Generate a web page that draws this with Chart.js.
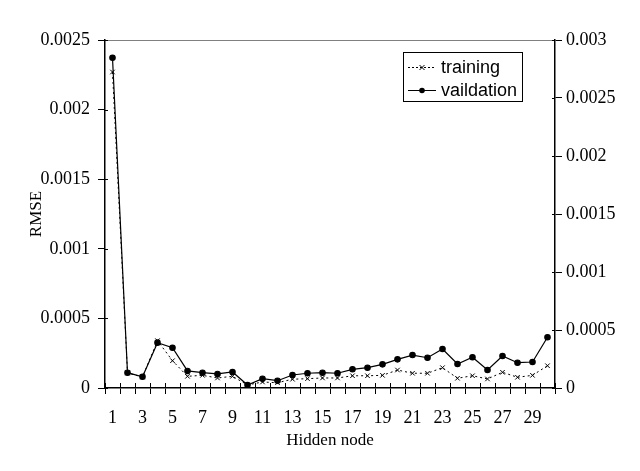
<!DOCTYPE html>
<html>
<head>
<meta charset="utf-8">
<script src="https://cdn.jsdelivr.net/npm/chart.js@4/dist/chart.umd.min.js"></script>
<style>
  html, body { margin: 0; padding: 0; background: #fff; }
  #wrap { width: 640px; height: 471px; }
</style>
</head>
<body>
<div id="wrap"><canvas id="rmse"></canvas></div>
<script>
const nodes = [];
for (let i = 1; i <= 30; i++) nodes.push(String(i));

const training = [0.00227, 0.000108, 0.000079, 0.00034, 0.000196, 0.000084, 0.000091, 0.000072, 0.000084, 0.000022,
    0.000043, 0.000038, 0.000063, 0.000067, 0.000072, 0.000072, 0.000088, 0.000088, 0.000091, 0.000129,
    0.000106, 0.000106, 0.000146, 0.00007, 0.000088, 0.000065, 0.000113, 0.000077, 0.000091, 0.00016];

const validation = [0.002847, 0.000132, 0.000097, 0.000391, 0.000347, 0.000147, 0.000132, 0.000121, 0.000138, 0.000026,
    0.00008, 0.000063, 0.000112, 0.000127, 0.000132, 0.000127, 0.000161, 0.000175, 0.000204, 0.000247,
    0.000284, 0.000261, 0.000336, 0.000207, 0.000265, 0.000155, 0.000276, 0.000218, 0.000224, 0.000437];

Chart.defaults.font.family = '"Liberation Serif", "Times New Roman", serif';
Chart.defaults.font.size = 18;
Chart.defaults.color = '#000';

// top frame line, inner halves of tick marks, boxed legend
const frameAndLegend = {
    id: 'frameAndLegend',
    afterDraw(chart) {
        const ctx = chart.ctx;
        const a = chart.chartArea;
        ctx.save();
        ctx.strokeStyle = '#808080';
        ctx.lineWidth = 1;
        ctx.beginPath();
        ctx.moveTo(a.left, a.top + 0.5);
        ctx.lineTo(a.right, a.top + 0.5);
        ctx.stroke();

        // tick marks cross the axes
        ctx.strokeStyle = '#000';
        ctx.beginPath();
        const xs = chart.scales.x;
        const half = (xs.getPixelForValue(1) - xs.getPixelForValue(0)) / 2;
        for (let i = 0; i <= nodes.length; i++) {
            const px = Math.round(xs.getPixelForValue(i) - half) + 0.5;
            ctx.moveTo(px, a.bottom);
            ctx.lineTo(px, a.bottom - 5);
        }
        ['yleft', 'yright'].forEach(id => {
            const s = chart.scales[id];
            const dir = id === 'yleft' ? 1 : -1;
            const edge = id === 'yleft' ? a.left : a.right;
            s.ticks.forEach(t => {
                const py = Math.round(s.getPixelForValue(t.value)) + 0.5;
                ctx.moveTo(edge, py);
                ctx.lineTo(edge + 3 * dir, py);
            });
        });
        ctx.stroke();

        // legend box
        const bx = 403.5, by = 52.5, bw = 119, bh = 49;
        ctx.fillStyle = '#fff';
        ctx.fillRect(bx, by, bw, bh);
        ctx.strokeStyle = '#000';
        ctx.strokeRect(bx, by, bw, bh);

        const rows = [
            {label: 'training', y: 67, dash: [2, 2], marker: 'x'},
            {label: 'vaildation', y: 90, dash: [], marker: 'dot'}
        ];
        ctx.font = '18px "Liberation Sans", Arial, sans-serif';
        ctx.textBaseline = 'middle';
        rows.forEach(r => {
            ctx.strokeStyle = '#000';
            ctx.setLineDash(r.dash);
            ctx.beginPath();
            ctx.moveTo(408, r.y + 0.5);
            ctx.lineTo(436, r.y + 0.5);
            ctx.stroke();
            ctx.setLineDash([]);
            if (r.marker === 'x') {
                ctx.beginPath();
                ctx.moveTo(419.5, r.y - 2); ctx.lineTo(424.5, r.y + 3);
                ctx.moveTo(424.5, r.y - 2); ctx.lineTo(419.5, r.y + 3);
                ctx.stroke();
            } else {
                ctx.fillStyle = '#000';
                ctx.beginPath();
                ctx.arc(422, r.y + 0.5, 2.8, 0, Math.PI * 2);
                ctx.fill();
            }
            ctx.fillStyle = '#000';
            ctx.fillText(r.label, 441, r.y + 1);
        });
        ctx.restore();
    }
};

function fmt(v) {
    return String(+Number(v).toFixed(4));
}

function drawRmseChart(canvas) {
    const ctx = document.getElementById(canvas);
    const data = {
        labels: nodes,
        datasets: [
            {
                label: 'training',
                data: training,
                borderColor: '#000',
                backgroundColor: '#000',
                borderWidth: 1,
                borderDash: [2, 3],
                pointStyle: 'crossRot',
                pointRadius: 3.2,
                pointBorderWidth: 1,
                tension: 0,
                yAxisID: 'yleft'
            },
            {
                label: 'vaildation',
                data: validation,
                borderColor: '#000',
                backgroundColor: '#000',
                borderWidth: 1.2,
                pointStyle: 'circle',
                pointRadius: 2.7,
                tension: 0,
                yAxisID: 'yright'
            }]
    };

    const config = {
        type: 'line',
        data: data,
        options: {
            responsive: true,
            maintainAspectRatio: false,
            animation: false,
            layout: {padding: {left: 22, top: 40, right: 0, bottom: 16}},
            plugins: {legend: {display: false}, tooltip: {enabled: false}},
            scales: {
                x: {
                    offset: true,
                    grid: {offset: true, drawOnChartArea: false, tickLength: 6, color: '#000'},
                    border: {color: '#000', width: 1.5},
                    ticks: {
                        autoSkip: false, maxRotation: 0, padding: 13,
                        callback: (v, i) => i % 2 === 0 ? nodes[i] : ''
                    },
                    title: {display: true, text: 'Hidden node', font: {size: 17}, padding: {top: 2, bottom: 4}},
                    afterFit: s => { s.height = 67; }
                },
                yleft: {
                    position: 'left',
                    min: 0, max: 0.0025,
                    grid: {drawOnChartArea: false, tickLength: 7, color: '#000'},
                    border: {color: '#000', width: 1.5},
                    ticks: {stepSize: 0.0005, padding: 8, callback: fmt},
                    title: {display: true, text: 'RMSE', font: {size: 17}},
                    afterFit: s => { s.width = 83; }
                },
                yright: {
                    position: 'right',
                    min: 0, max: 0.003,
                    grid: {drawOnChartArea: false, tickLength: 7, color: '#000'},
                    border: {color: '#000', width: 1.5},
                    ticks: {stepSize: 0.0005, padding: 4, callback: fmt},
                    afterFit: s => { s.width = 85; }
                }
            }
        },
        plugins: [frameAndLegend]
    };

    new Chart(ctx, config);
}

drawRmseChart('rmse');
</script>
</body>
</html>
